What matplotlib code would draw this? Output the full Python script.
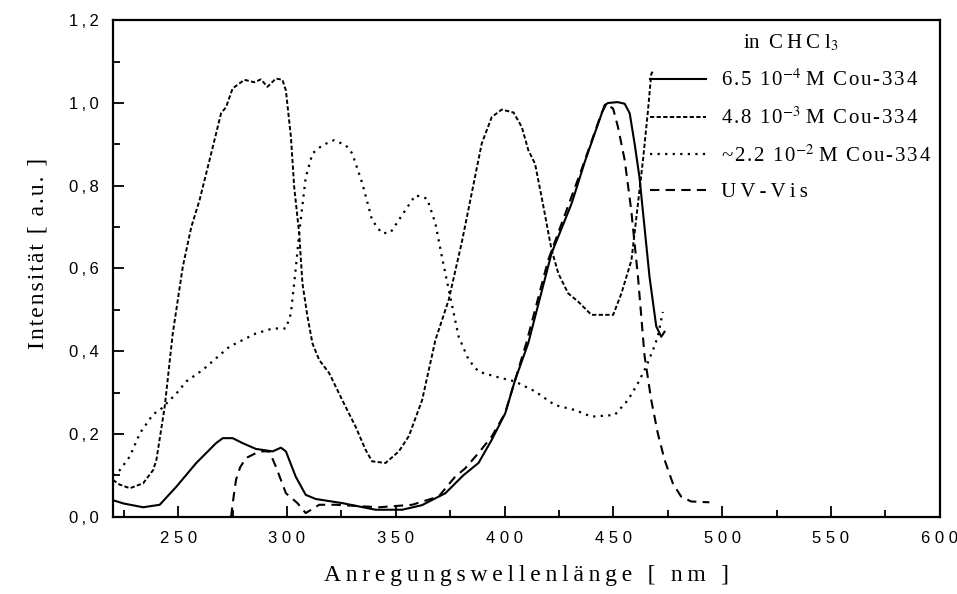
import numpy as np
import matplotlib
matplotlib.use('Agg')
import matplotlib.pyplot as plt
from matplotlib.ticker import MultipleLocator, FixedLocator

plt.rcParams['mathtext.fontset'] = 'stix'

# 6.5 10^-4 M Cou-334 (solid)
x_c1 = [220, 225, 233.9, 241.5, 249.2, 258.3, 267.4, 270.5, 275, 279.6, 285.7, 293.4,
        297.2, 299.5, 304, 308.6, 313.2, 325.4, 340.7, 352.9, 362, 372.8, 381, 388,
        394, 400.3, 404.8, 410.9, 421.6, 430.8, 437, 446, 447.6, 452, 455.2, 457.5,
        459.8, 462, 464.3, 466.6, 469.7, 472, 473.5]
y_c1 = [0.040, 0.032, 0.023, 0.029, 0.073, 0.130, 0.178, 0.190, 0.190, 0.178, 0.164, 0.158,
        0.167, 0.158, 0.097, 0.053, 0.043, 0.033, 0.017, 0.017, 0.028, 0.057, 0.100, 0.130,
        0.185, 0.250, 0.330, 0.420, 0.637, 0.757, 0.860, 0.995, 1.000, 1.002, 0.998, 0.975,
        0.900, 0.820, 0.700, 0.580, 0.460, 0.435, 0.447]

# 4.8 10^-3 M Cou-334 (short dashes)
x_c2 = [220, 223, 227.8, 233.9, 238.5, 240, 243.8, 247.5, 252.1, 256, 259.8, 264.4,
        269.7, 272, 275, 280.4, 285, 288, 291, 294.9, 297.9, 299.5, 301.8, 303.3,
        305.6, 307.1, 309.4, 311.7, 314.8, 319.4, 325.4, 331.5, 336.1, 339.1, 345.3,
        351.4, 356, 362.1, 368.2, 374.3, 380.4, 389.5, 394.1, 398.7, 404.1, 407.9,
        410.9, 414, 417, 421.6, 424.7, 429.2, 433.8, 439.9, 449.9, 453.7, 458.3,
        461.3, 463.6, 465.9, 467.4, 468.5]
y_c2 = [0.089, 0.078, 0.069, 0.081, 0.113, 0.138, 0.266, 0.443, 0.604, 0.700, 0.765, 0.862,
        0.975, 0.990, 1.035, 1.056, 1.050, 1.057, 1.039, 1.059, 1.056, 1.030, 0.918, 0.797,
        0.685, 0.564, 0.484, 0.419, 0.379, 0.347, 0.282, 0.218, 0.162, 0.134, 0.130,
        0.158, 0.195, 0.282, 0.427, 0.524, 0.665, 0.902, 0.966, 0.984, 0.977, 0.942,
        0.886, 0.853, 0.773, 0.645, 0.588, 0.540, 0.520, 0.488, 0.488, 0.540, 0.620,
        0.757, 0.862, 0.982, 1.070, 1.080]

# ~2.2 10^-2 M Cou-334 (dots)
x_c3 = [220, 223.2, 227.8, 232.4, 238.5, 241.6, 249.2, 253.7, 261.3, 273.5, 285.7, 293.4,
        299.5, 301.8, 304.1, 305.6, 308.6, 311.7, 316.3, 321.6, 327, 330, 334.6, 339.1,
        343.6, 347.6, 352.9, 359, 364.4, 368.2, 371.2, 375, 378.9, 383.5, 388, 395.6,
        404.8, 414, 423.1, 432.3, 439.9, 450.6, 456.7, 461.3, 465.1, 468.2, 470.4, 472.7]
y_c3 = [0.100, 0.113, 0.146, 0.202, 0.248, 0.258, 0.298, 0.327, 0.355, 0.411, 0.443, 0.455,
        0.455, 0.491, 0.604, 0.685, 0.820, 0.878, 0.898, 0.910, 0.898, 0.878, 0.806, 0.717,
        0.685, 0.687, 0.729, 0.777, 0.769, 0.709, 0.628, 0.532, 0.435, 0.379, 0.351, 0.339,
        0.327, 0.303, 0.270, 0.258, 0.242, 0.246, 0.282, 0.323, 0.363, 0.403, 0.435, 0.495]

# UV-Vis (long dashes)
x_uv = [274.3, 275.5, 276.6, 278.5, 281.2, 287.3, 291.9, 294.9, 299.5, 304.8, 308.6,
        314.8, 322.4, 342.2, 357.5, 369.7, 377.3, 381.9, 388, 394.1, 400.2, 410, 420,
        435.3, 444.5, 446.8, 449.9, 452.1, 455.2, 458.2, 461.3, 464.3, 467.4, 470.4,
        473.5, 477.3, 481.1, 485.7, 494.1]
y_uv = [0.000, 0.050, 0.090, 0.120, 0.142, 0.158, 0.158, 0.121, 0.057, 0.033, 0.009,
        0.029, 0.029, 0.023, 0.029, 0.049, 0.097, 0.117, 0.154, 0.194, 0.250, 0.420, 0.620,
        0.838, 0.975, 0.998, 0.986, 0.942, 0.862, 0.741, 0.580, 0.390, 0.282, 0.202,
        0.138, 0.081, 0.049, 0.037, 0.035]

conc = ['6.5 10', '4.8 10', '~2.2 10']
expo = ['-4', '-3', '-2']
x_ticks = [250, 300, 350, 400, 450, 500, 550, 600]
y_ticks = [0.0, 0.2, 0.4, 0.6, 0.8, 1.0, 1.2]

HAIR = '\u200a'
THIN = '\u2009'


def spaced(s, sep=HAIR):
    # poor man's letter spacing
    return sep.join(s)


labels = [spaced(c) + r'$^{%s}$' % e + ' ' + spaced('M Cou-334') for c, e in zip(conc, expo)]
labels.append(spaced('UV-Vis', THIN))
serif = ['Liberation Serif', 'DejaVu Serif']

fig = plt.figure(figsize=(9.57, 5.94), dpi=100)
ax = fig.add_axes([0.118, 0.130, 0.864, 0.836])

ax.plot(x_c1, y_c1, color='black', lw=1.5, label=labels[0])
ax.plot(x_c2, y_c2, color='black', lw=1.4, dashes=(2.2, 1.2), label=labels[1])
ax.plot(x_c3, y_c3, color='black', lw=1.6, dashes=(1.0, 2.4), label=labels[2])
ax.plot(x_uv, y_uv, color='black', lw=1.5, dashes=(4.5, 3.0), label=labels[3])

ax.set_xlim(220, 600)
ax.set_ylim(0, 1.2)
ax.xaxis.set_major_locator(FixedLocator(x_ticks))
ax.xaxis.set_minor_locator(MultipleLocator(25))
ax.yaxis.set_major_locator(FixedLocator(y_ticks))
ax.yaxis.set_minor_locator(MultipleLocator(0.1))
ax.set_xticklabels([' '.join(str(t)) for t in x_ticks])
ax.set_yticklabels([('%.1f' % t).replace('.', THIN + ',' + THIN) for t in y_ticks])
ax.tick_params(which='both', direction='in', width=1.3, labelsize=12, top=False, right=False)
ax.tick_params(which='major', length=8, pad=10)
ax.tick_params(which='minor', length=5)
for lab in ax.get_xticklabels() + ax.get_yticklabels():
    lab.set_family(['Liberation Sans', 'DejaVu Sans'])
for sp in ax.spines.values():
    sp.set_linewidth(1.6)

ax.set_xlabel(spaced('Anregungswellenlänge [ nm ]', THIN), family=serif, fontsize=17, labelpad=14)
ax.set_ylabel(spaced('Intensität [ a.u. ]'), family=serif, fontsize=17)
ax.yaxis.set_label_coords(-0.078, 0.53)

leg = ax.legend(loc='upper left', bbox_to_anchor=(0.650, 0.975), frameon=False,
                borderaxespad=0, borderpad=0,
                title=r'in' + THIN + ' ' + spaced('CHCl', THIN) + r'$_3$',
                handlelength=2.65, handletextpad=0.75, labelspacing=0.78,
                prop={'family': serif, 'size': 15})
leg.get_title().set_family(serif)
leg.get_title().set_fontsize(15)

fig.savefig('out.png', dpi=100)
